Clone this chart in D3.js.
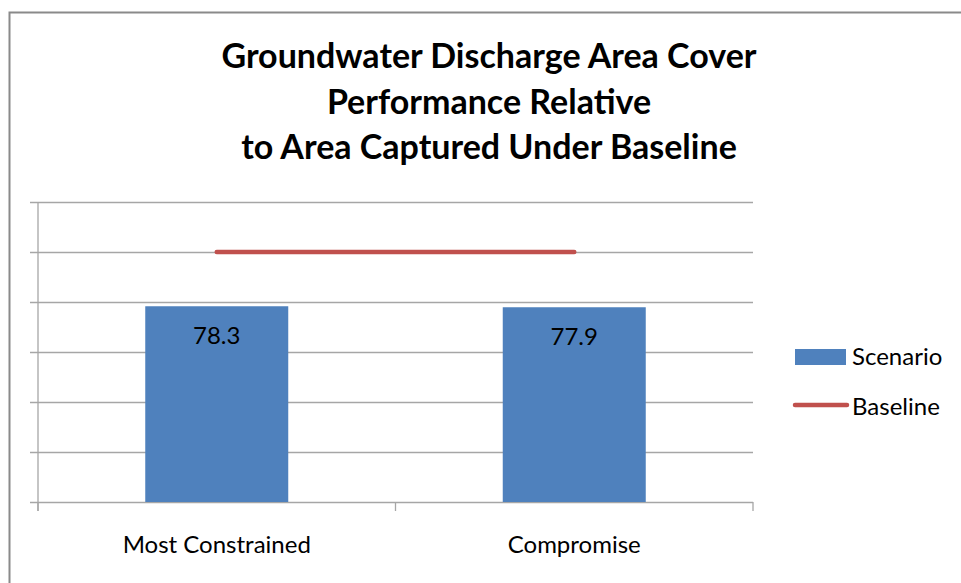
<!DOCTYPE html>
<html>
<head>
<meta charset="utf-8">
<script src="https://cdn.jsdelivr.net/npm/d3@7"></script>
<style>
  html, body { margin: 0; padding: 0; background: #fff; }
  svg { display: block; }
  text { font-family: Lato, "Open Sans", sans-serif; fill: #000; }
</style>
</head>
<body>
<svg id="chart" width="961" height="583"></svg>
<script>
// Chart data
const categories = ["Most Constrained", "Compromise"];
const scenarioValues = [78.3, 77.9];
const baselineValues = [100, 100];
const yTicks = [0, 20, 40, 60, 80, 100, 120];
const titleLines = [
  "Groundwater Discharge Area Cover",
  "Performance Relative",
  "to Area Captured Under Baseline"
];
const legendLabels = ["Scenario", "Baseline"];

const barColor = "#4f81bd";
const lineColor = "#c0504d";
const gridColor = "#a6a6a6";

const svg = d3.select("#chart");

// Chart-area frame
svg.append("rect")
  .attr("x", 9.5).attr("y", 12.5)
  .attr("width", 1000).attr("height", 700)
  .attr("fill", "#fff")
  .attr("stroke", "#8a8a8a")
  .attr("stroke-width", 2);

// Title
svg.append("g")
  .selectAll("text")
  .data(titleLines)
  .join("text")
  .attr("x", 489)
  .attr("y", (d, i) => 68 + i * 45.5)
  .attr("text-anchor", "middle")
  .attr("font-size", 34)
  .attr("font-weight", "bold")
  .text(d => d);

// Plot area
const plot = { left: 38, right: 753, top: 202, bottom: 502 };

const x = d3.scaleBand()
  .domain(categories)
  .range([plot.left, plot.right])
  .paddingInner(0)
  .paddingOuter(0);

const y = d3.scaleLinear()
  .domain([0, 120])
  .range([plot.bottom, plot.top]);

// Horizontal gridlines with short ticks left of the axis
svg.append("g")
  .attr("transform", `translate(${plot.left},0)`)
  .call(d3.axisLeft(y).tickValues(yTicks).tickSize(-(plot.right - plot.left)).tickSizeOuter(0).tickFormat(""))
  .call(g => g.select(".domain").remove())
  .call(g => g.selectAll(".tick line")
    .attr("stroke", gridColor).attr("stroke-width", 1.3)
    .attr("x1", -8));

// Vertical axis line
svg.append("line")
  .attr("x1", plot.left).attr("x2", plot.left)
  .attr("y1", plot.top).attr("y2", plot.bottom + 9)
  .attr("stroke", gridColor).attr("stroke-width", 1.3);

// Category axis: tick marks at band boundaries
const boundaries = [...categories.map(c => x(c)), x(categories[categories.length - 1]) + x.bandwidth()];
svg.append("g")
  .selectAll("line")
  .data(boundaries)
  .join("line")
  .attr("x1", d => d).attr("x2", d => d)
  .attr("y1", plot.bottom).attr("y2", plot.bottom + 9)
  .attr("stroke", gridColor).attr("stroke-width", 1.3);

// Category labels
svg.append("g")
  .selectAll("text")
  .data(categories)
  .join("text")
  .attr("x", d => x(d) + x.bandwidth() / 2)
  .attr("y", 553)
  .attr("text-anchor", "middle")
  .attr("font-size", 24)
  .attr("fill", "#111")
  .text(d => d);

// Scenario bars (40% of the band width)
const barW = x.bandwidth() * 0.4;
svg.append("g")
  .selectAll("rect")
  .data(scenarioValues)
  .join("rect")
  .attr("x", (d, i) => x(categories[i]) + x.bandwidth() / 2 - barW / 2)
  .attr("y", d => y(d))
  .attr("width", barW)
  .attr("height", d => y(0) - y(d))
  .attr("fill", barColor);

// Value labels inside bars
svg.append("g")
  .selectAll("text")
  .data(scenarioValues)
  .join("text")
  .attr("x", (d, i) => x(categories[i]) + x.bandwidth() / 2)
  .attr("y", d => y(d) + 38)
  .attr("text-anchor", "middle")
  .attr("font-size", 24)
  .attr("fill", "#1a1a1a")
  .text(d => d.toFixed(1));

// Baseline series line
const line = d3.line()
  .x((d, i) => x(categories[i]) + x.bandwidth() / 2)
  .y(d => y(d));
svg.append("path")
  .datum(baselineValues)
  .attr("d", line)
  .attr("fill", "none")
  .attr("stroke", lineColor)
  .attr("stroke-width", 4.5)
  .attr("stroke-linecap", "round");

// Legend
const legend = svg.append("g");
legend.append("rect")
  .attr("x", 795).attr("y", 349)
  .attr("width", 51).attr("height", 16)
  .attr("fill", barColor);
legend.append("line")
  .attr("x1", 795).attr("x2", 847)
  .attr("y1", 405).attr("y2", 405)
  .attr("stroke", lineColor)
  .attr("stroke-width", 4.5)
  .attr("stroke-linecap", "round");
legend.selectAll("text")
  .data(legendLabels)
  .join("text")
  .attr("x", 852)
  .attr("y", (d, i) => 365 + i * 50)
  .attr("font-size", 24)
  .attr("fill", "#111")
  .text(d => d);
</script>
</body>
</html>
